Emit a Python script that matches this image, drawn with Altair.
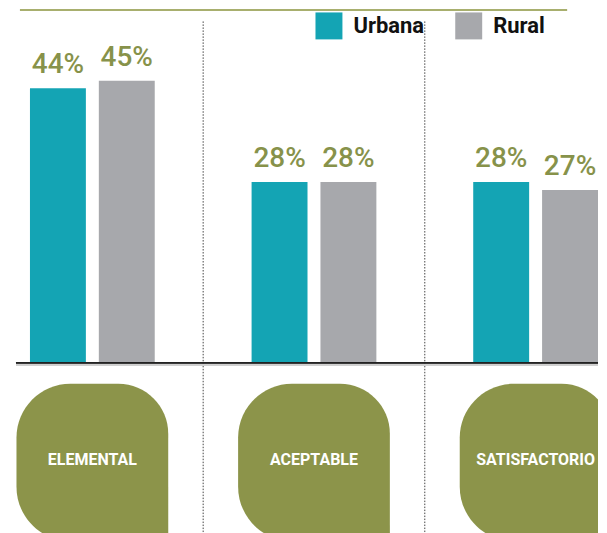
import altair as alt
import pandas as pd

categories = ["ELEMENTAL", "ACEPTABLE", "SATISFACTORIO"]
series = ["Urbana", "Rural"]
urbana_vals = [44, 29, 29]
rural_vals = [45.2, 29, 27.7]
urbana_labels = ["44%", "28%", "28%"]
rural_labels = ["45%", "28%", "27%"]

TEAL = "#14a4b4"
GRAY = "#a7a8ac"
OLIVE = "#8c944a"
LABEL_OLIVE = "#87924a"
FONT = "Roboto"

rows = []
for i, c in enumerate(categories):
    rows.append({"cat": c, "serie": "Urbana", "value": urbana_vals[i], "label": urbana_labels[i]})
    rows.append({"cat": c, "serie": "Rural", "value": rural_vals[i], "label": rural_labels[i]})
bars_df = pd.DataFrame(rows)
cats_df = pd.DataFrame({"cat": categories})
div_df = pd.DataFrame({"cat": categories[:2]})

W, H = 591, 525
xscale = alt.Scale(domain=categories, range=[22, 591], paddingInner=0.437, paddingOuter=0)
# baseline at 354 px from top, 6.25 px per percentage point
yscale = alt.Scale(domain=[(354 - H) / 6.25, 354 / 6.25], nice=False, zero=False)
xoff = alt.XOffset("serie:N", sort=series, scale=alt.Scale(paddingInner=0.188, paddingOuter=0))

X = alt.X("cat:N", sort=categories, scale=xscale, axis=None)

bars = alt.Chart(bars_df).mark_bar().encode(
    x=X,
    xOffset=xoff,
    y=alt.Y("value:Q", scale=yscale, axis=None),
    y2=alt.datum(0),
    color=alt.Color(
        "serie:N",
        sort=series,
        scale=alt.Scale(domain=series, range=[TEAL, GRAY]),
        legend=alt.Legend(
            title=None,
            orient="none",
            legendX=308,
            legendY=3,
            direction="horizontal",
            symbolType="square",
            symbolSize=729,
            symbolStrokeWidth=0,
            symbolOpacity=1,
            labelFont=FONT,
            labelFontSize=22,
            labelFontWeight="bold",
            labelColor="#111111",
            labelOffset=11,
            columnPadding=31,
        ),
    ),
)

labels = alt.Chart(bars_df).mark_text(
    baseline="alphabetic", dy=-15, font=FONT, fontSize=28, fontWeight=500, color=LABEL_OLIVE
).encode(
    x=X,
    xOffset=xoff,
    y=alt.Y("value:Q", scale=yscale, axis=None),
    text="label:N",
)

shapes = alt.Chart(cats_df).mark_bar(
    width=152,
    color=OLIVE,
    clip=True,
    cornerRadiusTopLeft=54,
    cornerRadiusTopRight=50,
    cornerRadiusBottomLeft=55,
    cornerRadiusBottomRight=0,
).encode(x=X, y=alt.value(375), y2=alt.value(533))

cat_text = alt.Chart(cats_df).mark_text(
    font=FONT, fontSize=16, fontWeight="bold", color="white", baseline="middle"
).encode(x=X, y=alt.value(451), text="cat:N")

dividers = alt.Chart(div_df).mark_rule(
    strokeDash=[1.5, 1.5], color="#444444", strokeWidth=1, xOffset=48.5
).encode(x=alt.X("cat:N", sort=categories, scale=xscale, axis=None, bandPosition=1),
         y=alt.value(12), y2=alt.value(H))

baseline_shadow = alt.Chart(cats_df).mark_rule(color="#cfcfcf", strokeWidth=2).encode(
    x=alt.value(8), x2=alt.value(W), y=alt.value(356))
baseline = alt.Chart(cats_df).mark_rule(color="#222222", strokeWidth=1.5).encode(
    x=alt.value(8), x2=alt.value(W), y=alt.value(354))
top_line = alt.Chart(cats_df).mark_rule(color="#a8af6e", strokeWidth=2).encode(
    x=alt.value(12), x2=alt.value(560), y=alt.value(0.5))

chart = alt.layer(
    top_line, dividers, shapes, cat_text, baseline_shadow, bars, baseline, labels
).properties(width=W, height=H, padding=0).configure_view(stroke=None)

chart.save("out.html", embed_options={"renderer": "svg", "actions": False})
